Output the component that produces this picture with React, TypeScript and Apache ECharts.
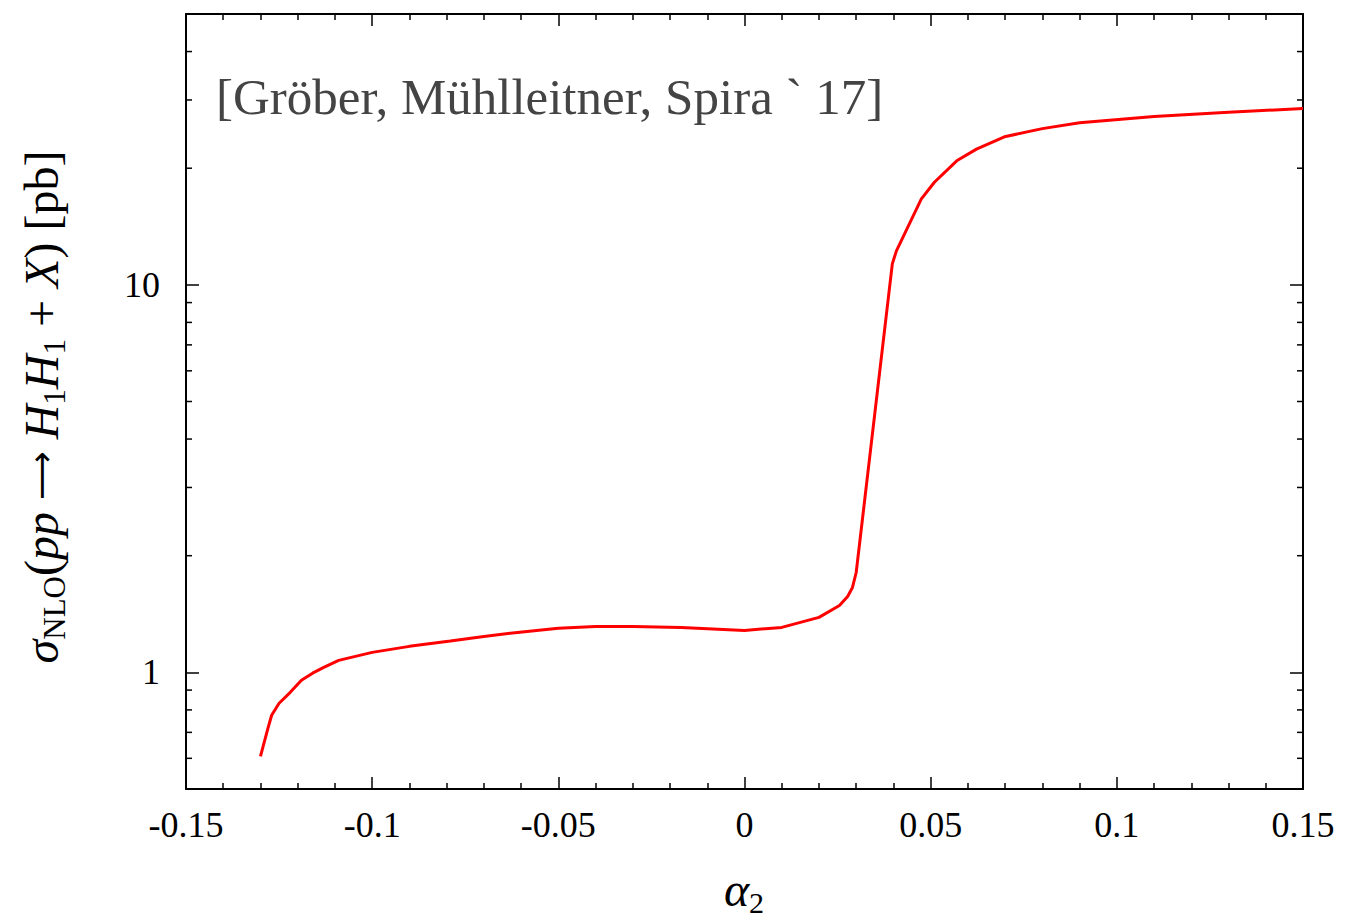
import React, { useEffect, useRef } from 'react';
import * as echarts from 'echarts';

// ---- data ----
const alpha2 = [
  -0.13, -0.128, -0.127, -0.125, -0.122, -0.119, -0.116, -0.113, -0.109, -0.1,
  -0.09, -0.079, -0.07, -0.061, -0.05, -0.04, -0.03, -0.017, 0.0, 0.01,
  0.02, 0.0255, 0.0277, 0.029, 0.03, 0.0397, 0.0408, 0.0475, 0.051, 0.057,
  0.0623, 0.0698, 0.08, 0.09, 0.11, 0.13, 0.15,
];
const sigmaNLO = [
  0.607, 0.717, 0.775, 0.832, 0.888, 0.954, 0.995, 1.03, 1.074, 1.126,
  1.167, 1.205, 1.238, 1.268, 1.3, 1.314, 1.314, 1.306, 1.283, 1.306,
  1.386, 1.488, 1.57, 1.656, 1.81, 11.33, 12.24, 16.66, 18.4, 20.9,
  22.4, 24.1, 25.3, 26.2, 27.2, 27.9, 28.5,
];
const yTickLabels = [1, 10];
const yMinorTicks = [0.6, 0.7, 0.8, 0.9, 2, 3, 4, 5, 6, 7, 8, 9, 20, 30, 40];
const X_MIN = -0.15;
const X_MAX = 0.15;
const X_STEP = 0.05;
const Y_MIN = 0.5;
const Y_MAX = 50;
const annotation = '[Gröber, Mühlleitner, Spira ` 17]';

const FONT = '"Liberation Serif", "Times New Roman", serif';

export default function App() {
  const ref = useRef<HTMLDivElement>(null);

  useEffect(() => {
    if (!ref.current) return;
    const chart = echarts.init(ref.current, undefined, { renderer: 'svg' });

    const frameLine = { show: true, onZero: false, lineStyle: { color: '#000', width: 2 } };
    const xAxisBase = {
      type: 'value',
      min: X_MIN,
      max: X_MAX,
      interval: X_STEP,
      axisLine: frameLine,
      axisTick: { show: true, inside: true, length: 12, lineStyle: { color: '#000', width: 1.5 } },
      minorTick: { show: true, splitNumber: 5, length: 6, lineStyle: { color: '#000', width: 1.5 } },
      splitLine: { show: false },
      minorSplitLine: { show: false },
    };
    const yAxisBase = {
      type: 'log',
      logBase: 10,
      min: Y_MIN,
      max: Y_MAX,
      axisLine: frameLine,
      axisTick: { show: true, inside: true, length: 13, lineStyle: { color: '#000', width: 1.5 } },
      splitLine: { show: false },
    };

    const yFmt = (v: number) => {
      for (const t of yTickLabels) if (Math.abs(v - t) / t < 1e-6) return String(t);
      return '';
    };
    const xFmt = (v: number) => {
      const r = Math.round(v * 1000) / 1000;
      return String(r);
    };

    const option: any = {
      animation: false,
      backgroundColor: '#fff',
      grid: { left: 186, right: 42, top: 14, bottom: 126, containLabel: false },
      xAxis: [
        {
          ...xAxisBase,
          position: 'bottom',
          axisLabel: {
            show: true,
            formatter: xFmt,
            color: '#000',
            fontFamily: FONT,
            fontSize: 36,
            margin: 18,
          },
        },
        { ...xAxisBase, position: 'top', axisLabel: { show: false } },
      ],
      yAxis: [
        {
          ...yAxisBase,
          position: 'left',
          axisLabel: {
            show: true,
            formatter: yFmt,
            color: '#000',
            fontFamily: FONT,
            fontSize: 36,
            margin: 26,
          },
        },
        { ...yAxisBase, position: 'right', axisLabel: { show: false } },
      ],
      series: [
        {
          type: 'custom',
          xAxisIndex: 0,
          yAxisIndex: 0,
          silent: true,
          data: yMinorTicks.map((v) => [X_MIN, v]),
          renderItem: (_params: any, api: any) => {
            const v = api.value(1);
            const l = api.coord([X_MIN, v]);
            const r = api.coord([X_MAX, v]);
            const st = { stroke: '#000', lineWidth: 1.5 };
            return {
              type: 'group',
              children: [
                { type: 'line', shape: { x1: l[0], y1: l[1], x2: l[0] + 6, y2: l[1] }, style: st },
                { type: 'line', shape: { x1: r[0], y1: r[1], x2: r[0] - 6, y2: r[1] }, style: st },
              ],
            };
          },
        },
        {
          type: 'line',
          xAxisIndex: 0,
          yAxisIndex: 0,
          data: alpha2.map((x, i) => [x, sigmaNLO[i]]),
          showSymbol: false,
          symbol: 'none',
          smooth: false,
          lineStyle: { color: '#ff0000', width: 3 },
          z: 5,
        },
      ],
      graphic: [
        {
          type: 'text',
          x: 216,
          y: 97,
          style: {
            text: annotation,
            fontFamily: FONT,
            fontSize: 51,
            fill: '#444',
            align: 'left',
            verticalAlign: 'middle',
          },
        },
        {
          type: 'text',
          x: 41,
          y: 407,
          rotation: Math.PI / 2,
          style: {
            text:
              '{g|σ}{s|NLO}{n|(}{i|pp}{n| }{a|⟶}{n| }{i|H}{s|1}{i|H}{s|1}{n| + }{i|X}{n|) [pb]}',
            align: 'center',
            verticalAlign: 'middle',
            rich: {
              g: { fontFamily: FONT, fontStyle: 'italic', fontSize: 48, lineHeight: 58, fill: '#000' },
              i: { fontFamily: FONT, fontStyle: 'italic', fontSize: 48, lineHeight: 58, fill: '#000' },
              n: { fontFamily: FONT, fontSize: 48, lineHeight: 58, fill: '#000' },
              a: { fontFamily: '"DejaVu Sans", "DejaVu Serif", sans-serif', fontSize: 34, lineHeight: 58, fill: '#000' },
              s: { fontFamily: FONT, fontSize: 31, lineHeight: 31, verticalAlign: 'bottom', fill: '#000' },
            },
          },
        },
        {
          type: 'text',
          x: 744,
          y: 889,
          style: {
            text: '{a|α}{s|2}',
            align: 'center',
            verticalAlign: 'middle',
            rich: {
              a: { fontFamily: FONT, fontStyle: 'italic', fontSize: 48, lineHeight: 56, fill: '#000' },
              s: { fontFamily: FONT, fontSize: 30, lineHeight: 30, verticalAlign: 'bottom', fill: '#000' },
            },
          },
        },
      ],
    };

    chart.setOption(option);
    return () => chart.dispose();
  }, []);

  return (
    <div
      ref={ref}
      style={{ position: 'absolute', left: 0, top: 0, width: 1345, height: 915, background: '#fff' }}
    />
  );
}
